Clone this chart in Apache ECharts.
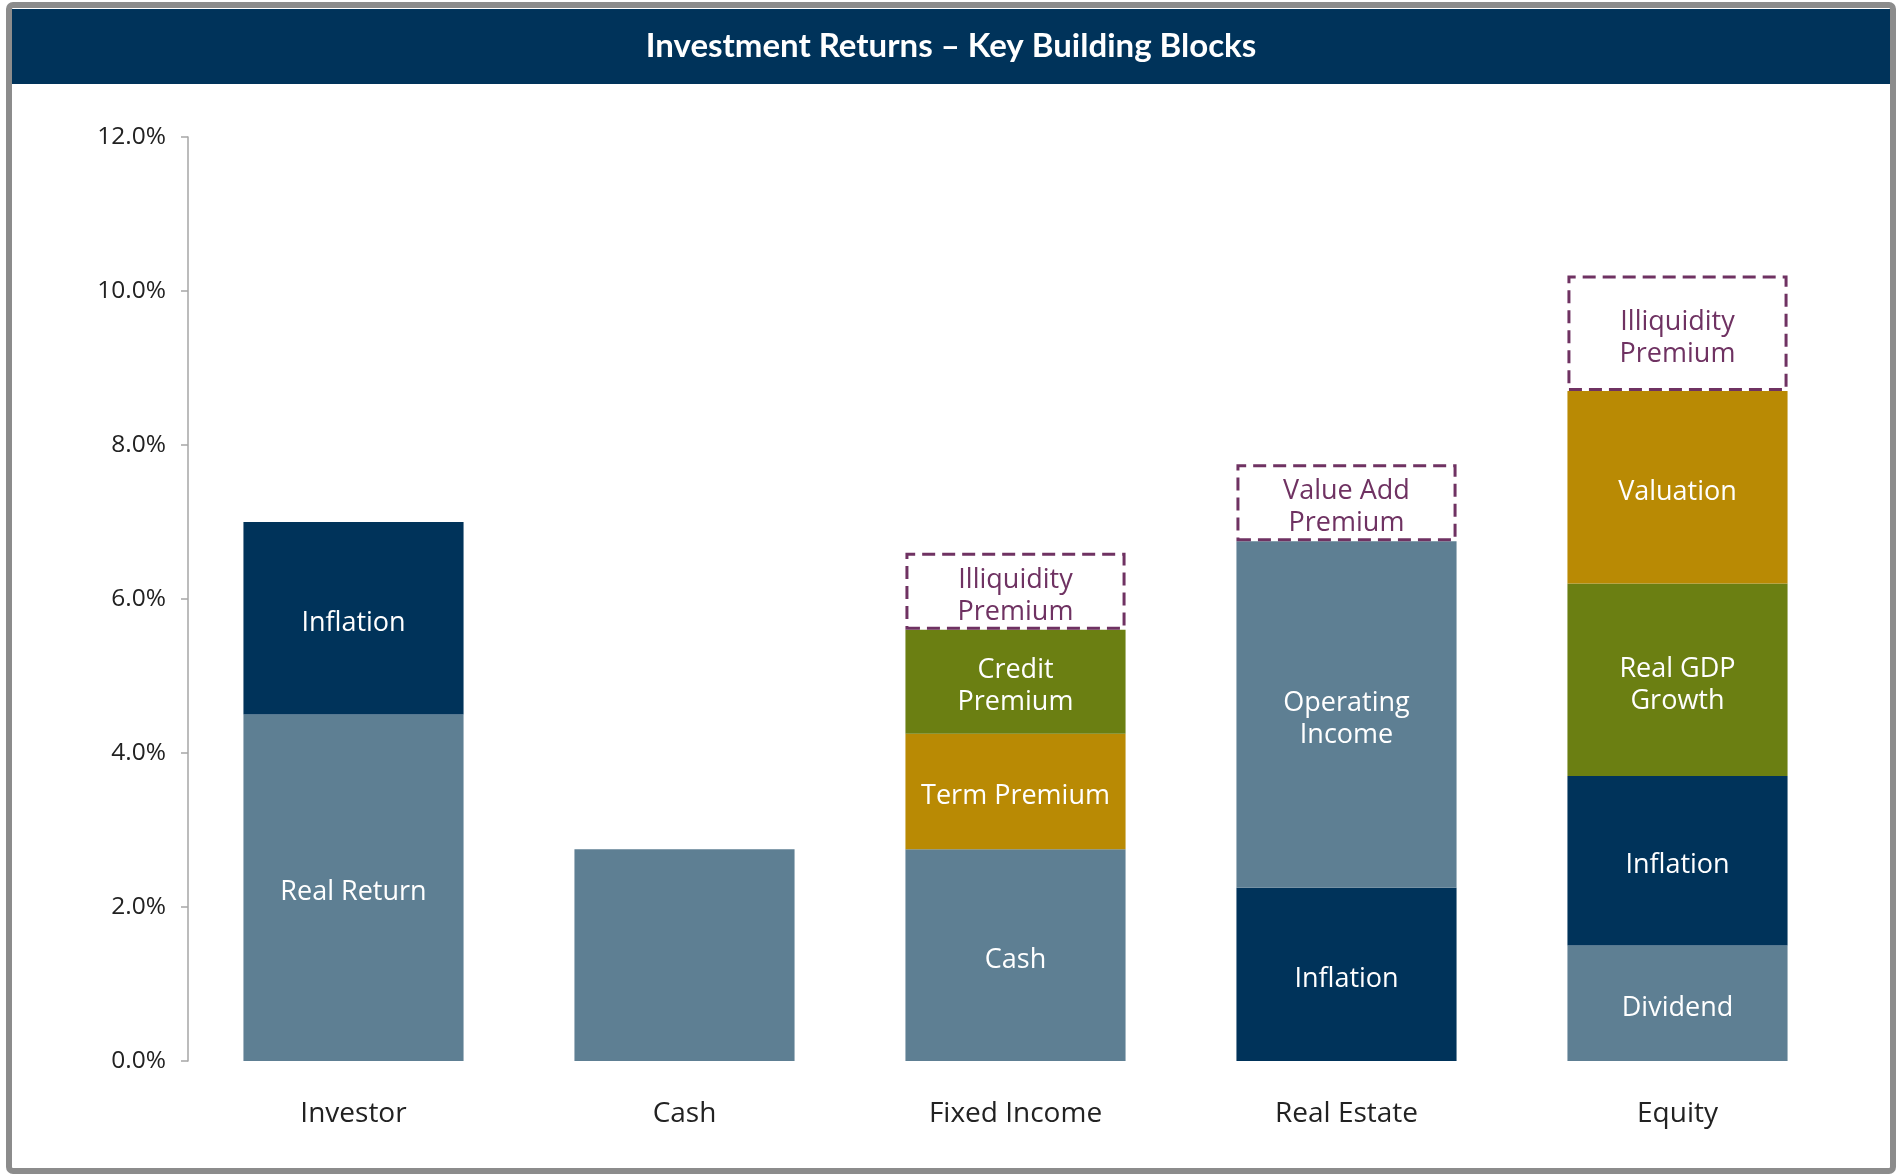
<!DOCTYPE html>
<html>
<head>
<meta charset="utf-8">
<title>Investment Returns</title>
<script src="https://cdn.jsdelivr.net/npm/echarts@6/dist/echarts.min.js"></script>
<style>
	html, body { margin: 0; padding: 0; background: #fff; }
	#chart { width: 1902px; height: 1174px; }
</style>
</head>
<body>
<div id="chart"></div>
<script>
"use strict";
// categories
var categories = [ 'Investor', 'Cash', 'Fixed Income', 'Real Estate', 'Equity' ];

// stack layers, bottom to top (percent)
var layer1Values = [ 4.5, 2.75, 2.75, 2.25, 1.5 ];
var layer1Names = [ 'Real Return', '', 'Cash', 'Inflation', 'Dividend' ];
var layer2Values = [ 2.5, null, 1.5, 4.5, 2.2 ];
var layer2Names = [ 'Inflation', '', 'Term Premium', 'Operating\nIncome', 'Inflation' ];
var layer3Values = [ null, null, 1.35, null, 2.5 ];
var layer3Names = [ '', '', 'Credit\nPremium', '', 'Real GDP\nGrowth' ];
var layer4Values = [ null, null, null, null, 2.5 ];
var layer4Names = [ '', '', '', '', 'Valuation' ];
// dashed boxes on top
var premiumValues = [ null, null, 1.0, 1.0, 1.5 ];
var premiumNames = [ '', '', 'Illiquidity\nPremium', 'Value Add\nPremium', 'Illiquidity\nPremium' ];

// y axis ticks
var yMin = 0, yMax = 12, yStep = 2;

var FONT = '"Open Sans", "Noto Sans", sans-serif';
var STEEL = '#5E7F93', NAVY = '#00335A', GOLD = '#B98A04', OLIVE = '#6B7F12', PLUM = '#6F3262';

var blockColors = {
	'Inflation' : NAVY,
	'Term Premium' : GOLD,
	'Valuation' : GOLD,
	'Credit\nPremium' : OLIVE,
	'Real GDP\nGrowth' : OLIVE
};

function colorOf(name) {
	return blockColors[name] || STEEL;
}

// text inside the blocks
function blockLabel(color) {
	return {
		show : true,
		position : 'inside',
		offset : [ 0, 5 ],
		color : color,
		fontFamily : FONT,
		fontSize : 27,
		lineHeight : 32,
		formatter : function(p) { return p.data.name; }
	};
}

function layerSeries(values, names) {
	return {
		type : 'bar',
		stack : 'total',
		barWidth : '66.5%',
		data : values.map(function(v, i) {
			return {
				value : v,
				name : names[i],
				itemStyle : { color : colorOf(names[i]) }
			};
		}),
		label : blockLabel('#fff'),
		emphasis : { disabled : true }
	};
}

var premiumSeries = {
	type : 'bar',
	stack : 'total',
	barWidth : '66.5%',
	z : 3,
	data : premiumValues.map(function(v, i) {
		return { value : v, name : premiumNames[i] };
	}),
	itemStyle : {
		color : 'rgba(255,255,255,0)',
		borderColor : PLUM,
		borderWidth : 3,
		borderType : [ 13, 7 ]
	},
	label : blockLabel(PLUM),
	emphasis : { disabled : true }
};

var chart = echarts.init(document.getElementById('chart'));
var option = {
	backgroundColor : '#fff',
	animation : false,
	title : {
		text : 'Investment Returns \u2013 Key Building Blocks',
		left : 'center',
		top : 25,
		textStyle : {
			color : '#fff',
			fontFamily : 'Lato, "Open Sans", sans-serif',
			fontWeight : 'bold',
			fontSize : 33
		}
	},
	graphic : [ {
		type : 'rect',
		z : -1,
		shape : { x : 9, y : 5, width : 1884, height : 1166, r : 4 },
		style : { fill : '#fff', stroke : '#8C8C8C', lineWidth : 6 }
	}, {
		type : 'rect',
		z : 0,
		shape : { x : 12, y : 9, width : 1878, height : 75 },
		style : { fill : NAVY }
	} ],
	grid : {
		left : 188,
		right : 59,
		top : 137,
		bottom : 113
	},
	xAxis : {
		type : 'category',
		data : categories,
		axisLine : { show : false },
		axisTick : { show : false },
		axisLabel : {
			color : '#222',
			fontFamily : FONT,
			fontSize : 28,
			margin : 39
		}
	},
	yAxis : {
		type : 'value',
		min : yMin,
		max : yMax,
		interval : yStep,
		axisLine : { show : true, lineStyle : { color : '#A6A6A6', width : 1.5 } },
		axisTick : { show : true, length : 7, lineStyle : { color : '#A6A6A6', width : 1.5 } },
		splitLine : { show : false },
		axisLabel : {
			color : '#222',
			fontFamily : FONT,
			fontSize : 24.5,
			margin : 22,
			formatter : function(v) { return v.toFixed(1) + '%'; }
		}
	},
	series : [
		layerSeries(layer1Values, layer1Names),
		layerSeries(layer2Values, layer2Names),
		layerSeries(layer3Values, layer3Names),
		layerSeries(layer4Values, layer4Names),
		premiumSeries
	]
};
chart.setOption(option);
</script>
</body>
</html>
